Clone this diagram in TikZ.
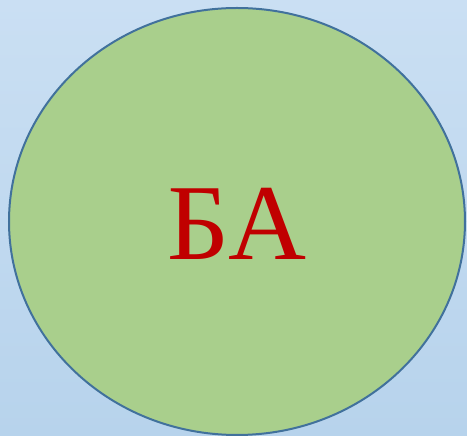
\documentclass[tikz,border=0pt]{standalone}
\usepackage{fontspec}
\setmainfont{Liberation Serif}
\usetikzlibrary{positioning}
\definecolor{bgtop}{HTML}{CADFF3}
\definecolor{bgbot}{HTML}{B7D3EC}
\definecolor{blobfill}{HTML}{A9CF8C}
\definecolor{blobline}{HTML}{41719C}
\definecolor{labelred}{HTML}{C00000}
\begin{document}
\begin{tikzpicture}[x=1pt, y=1pt,
    blob/.style={draw=blobline, line width=2pt, fill=blobfill},
    tag/.style={text=labelred, inner sep=0pt, font=\fontsize{108}{108}\selectfont}]
  % background
  \shade[top color=bgtop, bottom color=bgbot] (0,0) rectangle (467,436);
  \useasboundingbox (0,0) rectangle (467,436);
  % circle and label
  \draw[blob] (237,214.5) ellipse [x radius=228, y radius=213.5];
  \node[tag, anchor=base] (ba) at (237,176) {БА};
\end{tikzpicture}
\end{document}
